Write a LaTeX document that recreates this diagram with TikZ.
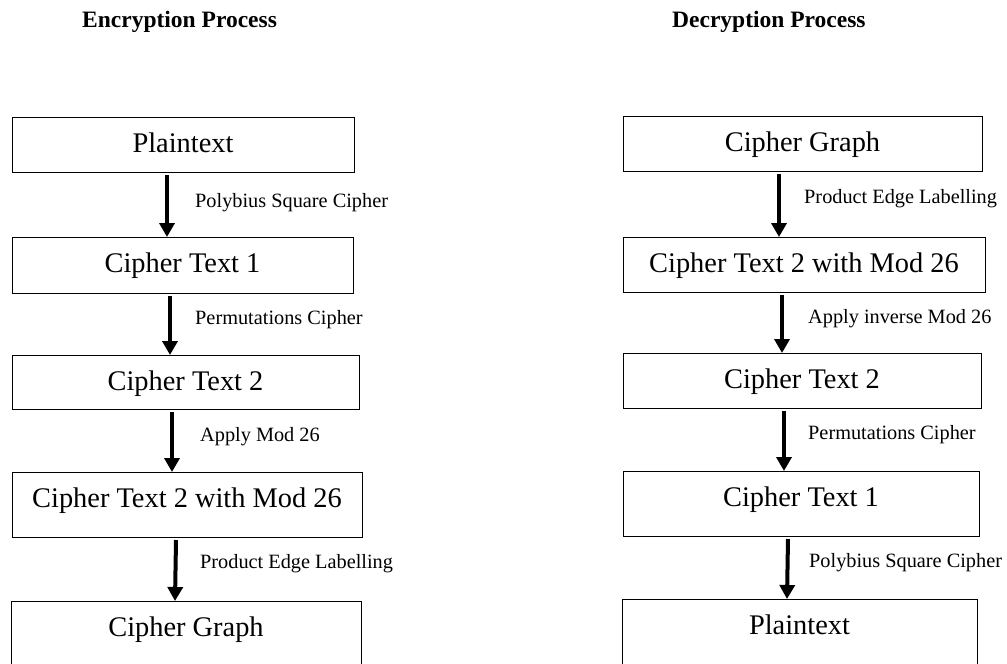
\documentclass[tikz,border=0pt]{standalone}
\usepackage{fontspec}
\setmainfont{Liberation Serif}
\usetikzlibrary{arrows.meta}
\begin{document}
\begin{tikzpicture}[x=1pt,y=-1pt,
 box/.style={draw=black, line width=1pt, anchor=north west, inner xsep=0pt, inner ysep=0pt, outer sep=0pt, text height=35.5pt, font=\fontsize{28.4}{30}\selectfont},
 lab/.style={anchor=west, inner sep=0pt, font=\fontsize{20.3}{22}\selectfont},
 head/.style={anchor=base west, inner sep=0pt, font=\fontsize{23.5}{26}\selectfont\bfseries},
 arr/.style={line width=4pt, -{Triangle[width=15pt,length=14pt]}}]
\useasboundingbox (0,0) rectangle (1007,664);
\clip (0,0) rectangle (1007,664);

% headings
\node[head] (h1) at (82,27) {Encryption Process};
\node[head] (h2) at (672,27) {Decryption Process};

% left column
\node[box, minimum width=342pt, text depth=19.5pt] (L1) at (12,117) {Plaintext};
\node[box, minimum width=341pt, text depth=20.5pt] (L2) at (12,237) {Cipher Text 1};
\node[box, minimum width=347pt, text depth=18.5pt] (L3) at (12,355) {Cipher Text 2};
\node[box, minimum width=350pt, text depth=29.5pt] (L4) at (12,472) {Cipher Text 2 with Mod 26};
\node[box, minimum width=350pt, text depth=64.5pt] (L5) at (11,601) {Cipher Graph};

\draw[arr] ([xshift=155pt,yshift=-3pt]L1.south west) -- ([xshift=155pt]L2.north west);
\draw[arr] ([xshift=158pt,yshift=-3pt]L2.south west) -- ([xshift=158pt]L3.north west);
\draw[arr] ([xshift=160pt,yshift=-3pt]L3.south west) -- ([xshift=160pt]L4.north west);
\draw[arr] ([xshift=164pt,yshift=-3pt]L4.south west) -- ([xshift=164pt]L5.north west);

\node[lab] (la1) at (195,203) {Polybius Square Cipher};
\node[lab] (la2) at (195,320) {Permutations Cipher};
\node[lab] (la3) at (200,437) {Apply Mod 26};
\node[lab] (la4) at (200,564) {Product Edge Labelling};

% right column
\node[box, minimum width=359pt, text depth=19.5pt] (R1) at (623,116) {Cipher Graph};
\node[box, minimum width=362pt, text depth=19.5pt] (R2) at (623,237) {Cipher Text 2 with Mod 26};
\node[box, minimum width=358pt, text depth=19.5pt] (R3) at (623,353) {Cipher Text 2};
\node[box, minimum width=356pt, text depth=29.5pt] (R4) at (623,471) {Cipher Text 1};
\node[box, minimum width=355pt, text depth=64.5pt] (R5) at (622,599) {Plaintext};

\draw[arr] ([xshift=156pt,yshift=-3pt]R1.south west) -- ([xshift=156pt]R2.north west);
\draw[arr] ([xshift=159pt,yshift=-3pt]R2.south west) -- ([xshift=159pt]R3.north west);
\draw[arr] ([xshift=161pt,yshift=-3pt]R3.south west) -- ([xshift=161pt]R4.north west);
\draw[arr] ([xshift=165pt,yshift=-3pt]R4.south west) -- ([xshift=165pt]R5.north west);

\node[lab] (lb1) at (804,199) {Product Edge Labelling};
\node[lab] (lb2) at (808,319) {Apply inverse Mod 26};
\node[lab] (lb3) at (808,435) {Permutations Cipher};
\node[lab] (lb4) at (809,563) {Polybius Square Cipher};
\end{tikzpicture}
\end{document}
